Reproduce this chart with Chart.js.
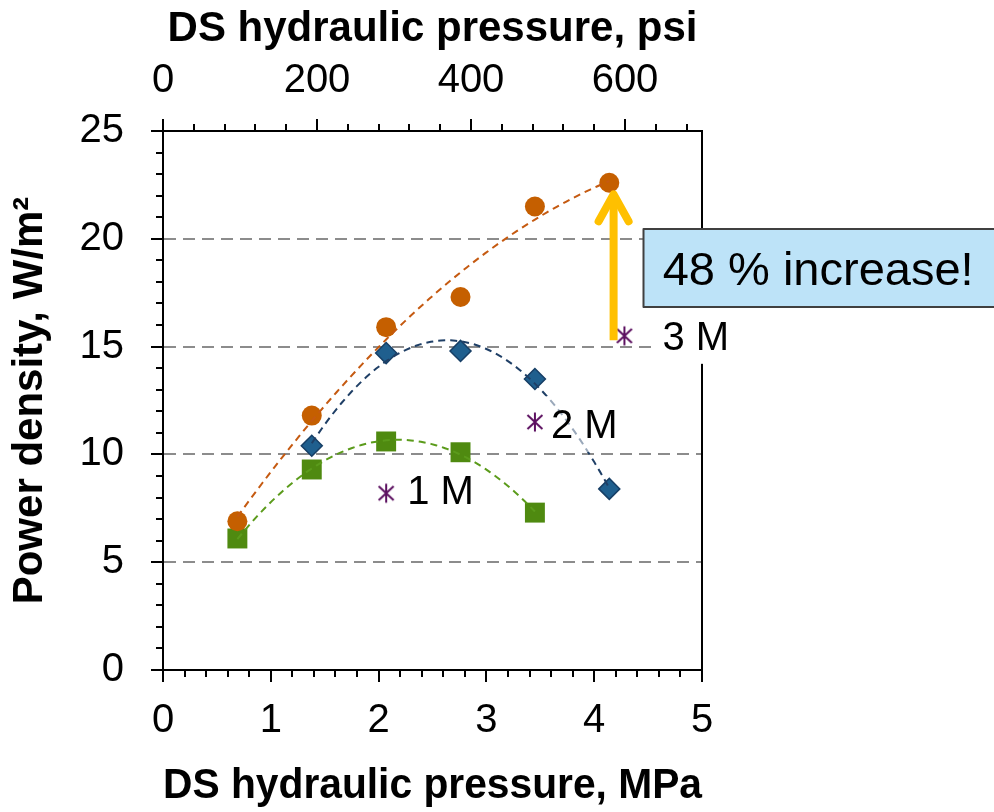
<!DOCTYPE html>
<html>
<head>
<meta charset="utf-8">
<script src="https://cdn.jsdelivr.net/npm/chart.js@4.4.0/dist/chart.umd.min.js"></script>
<style>
  html, body { margin: 0; padding: 0; background: #fff; }
  #grafico { display: block; }
</style>
</head>
<body>
<canvas id="grafico" width="994" height="812"></canvas>
<script>
/* ***** Data ***** */
const xCircles = [0.69, 1.38, 2.07, 2.76, 3.45, 4.14];
const yCircles = [6.9, 11.8, 15.9, 17.3, 21.5, 22.6];
const xDiamonds = [1.38, 2.07, 2.76, 3.45, 4.14];
const yDiamonds = [10.4, 14.7, 14.8, 13.5, 8.4];
const xSquares = [0.69, 1.38, 2.07, 2.76, 3.45];
const ySquares = [6.1, 9.3, 10.6, 10.1, 7.3];
const xStars = [2.07, 3.45, 4.28];
const yStars = [8.2, 11.5, 15.5];
const starLabels = ["1 M", "2 M", "3 M"];

const mpaTicks = [0, 1, 2, 3, 4, 5];
const psiTicks = [0, 200, 400, 600];
const powerTicks = [0, 5, 10, 15, 20, 25];
const calloutText = "48 % increase!";

/* annotation placement (data units) */
const arrowX = 4.18, arrowFromY = 15.3, arrowToY = 22.2;
const calloutX = 4.45, calloutTop = 20.45, calloutBottom = 16.85;

const FONT = '"Liberation Sans", Arial, sans-serif';
Chart.defaults.font.family = FONT;
Chart.defaults.color = "#000";

const toPoints = (xs, ys) => xs.map((x, i) => ({ x: x, y: ys[i] }));

// least squares 2nd order polynomial (like the Excel trendline)
function quadFit(xs, ys) {
  const s = [0, 0, 0, 0, 0], t = [0, 0, 0];
  xs.forEach((x, i) => {
    for (let k = 0; k < 5; k++) s[k] += Math.pow(x, k);
    for (let k = 0; k < 3; k++) t[k] += ys[i] * Math.pow(x, k);
  });
  const m = [[s[0], s[1], s[2], t[0]], [s[1], s[2], s[3], t[1]], [s[2], s[3], s[4], t[2]]];
  for (let c = 0; c < 3; c++) {
    for (let r = c + 1; r < 3; r++) {
      const f = m[r][c] / m[c][c];
      for (let k = c; k < 4; k++) m[r][k] -= f * m[c][k];
    }
  }
  const res = [0, 0, 0];
  for (let r = 2; r >= 0; r--) {
    let v = m[r][3];
    for (let k = r + 1; k < 3; k++) v -= m[r][k] * res[k];
    res[r] = v / m[r][r];
  }
  return res;
}

function trendPoints(xs, ys) {
  const c = quadFit(xs, ys);
  const a = xs[0], b = xs[xs.length - 1];
  const pts = [];
  for (let i = 0; i <= 60; i++) {
    const x = a + (b - a) * i / 60;
    pts.push({ x: x, y: c[0] + c[1] * x + c[2] * x * x });
  }
  return pts;
}

function makeStar(color) {
  const c = document.createElement("canvas");
  c.width = 22; c.height = 22;
  const g = c.getContext("2d");
  g.strokeStyle = color;
  g.lineWidth = 2;
  g.beginPath();
  g.moveTo(11, 1.5); g.lineTo(11, 20.5);
  g.moveTo(3.5, 4); g.lineTo(18.5, 18);
  g.moveTo(18.5, 4); g.lineTo(3.5, 18);
  g.stroke();
  return c;
}

function trendSet(pts, color) {
  return {
    data: pts, showLine: true, pointRadius: 0, borderColor: color,
    borderWidth: 2, borderDash: [7, 5], tension: 0, order: 0
  };
}

/* ***** extra drawing: minor ticks, labels, arrow, callout ***** */
const extras = {
  id: "extras",
  afterDraw(chart) {
    const { ctx, chartArea: a, scales } = chart;
    const x = scales.x, y = scales.y, x2 = scales.x2;
    ctx.save();
    ctx.strokeStyle = "#000";
    ctx.lineWidth = 2;
    ctx.beginPath();
    for (let v = 0; v <= 25; v++) {
      const py = Math.round(y.getPixelForValue(v));
      const len = v % 5 === 0 ? 12 : 7;
      ctx.moveTo(a.left - len, py); ctx.lineTo(a.left, py);
    }
    for (let i = 0; i <= 25; i++) {
      const px = Math.round(x.getPixelForValue(i * 0.2));
      const len = i % 5 === 0 ? 12 : 7;
      ctx.moveTo(px, a.bottom); ctx.lineTo(px, a.bottom + len);
    }
    for (let v = 0; v <= 700; v += 40) {
      const px = Math.round(x2.getPixelForValue(v));
      const len = v % 200 === 0 ? 12 : 7;
      ctx.moveTo(px, a.top); ctx.lineTo(px, a.top - len);
    }
    ctx.moveTo(a.right, a.top - 1); ctx.lineTo(a.right, a.bottom + 1);
    ctx.stroke();

    // labels next to the asterisks
    const offs = [[21, -3, null], [16, 2, "rgba(255,255,255,0.55)"], [38, 0, "#fff"]];
    ctx.font = "40px " + FONT;
    ctx.textBaseline = "alphabetic";
    starLabels.forEach((lab, i) => {
      const px = x.getPixelForValue(xStars[i]);
      const py = y.getPixelForValue(yStars[i]);
      const [dx, dy, bg] = offs[i];
      if (bg) {
        ctx.fillStyle = bg;
        ctx.fillRect(px + dx - 8, py + dy - 28, 90, 56);
      }
      ctx.fillStyle = "#000";
      ctx.fillText(lab, px + dx, py + dy + 14);
    });

    // yellow arrow
    const ax = x.getPixelForValue(arrowX);
    const ay0 = y.getPixelForValue(arrowFromY);
    const ay1 = y.getPixelForValue(arrowToY);
    ctx.strokeStyle = "#FFC000";
    ctx.lineWidth = 8;
    ctx.lineCap = "butt";
    ctx.beginPath();
    ctx.moveTo(ax, ay0); ctx.lineTo(ax, ay1 + 4);
    ctx.stroke();
    ctx.lineCap = "round";
    ctx.lineJoin = "round";
    ctx.beginPath();
    ctx.moveTo(ax - 15, ay1 + 30); ctx.lineTo(ax, ay1 + 3); ctx.lineTo(ax + 15, ay1 + 30);
    ctx.stroke();

    // callout box
    const bx = x.getPixelForValue(calloutX);
    const bt = y.getPixelForValue(calloutTop);
    const bb = y.getPixelForValue(calloutBottom);
    ctx.fillStyle = "#BDE3F8";
    ctx.strokeStyle = "#404040";
    ctx.lineWidth = 2;
    ctx.beginPath();
    ctx.rect(Math.round(bx) + 0.5, Math.round(bt), chart.width + 20 - bx, Math.round(bb - bt));
    ctx.fill();
    ctx.stroke();
    ctx.fillStyle = "#000";
    ctx.font = "47px " + FONT;
    ctx.fillText(calloutText, bx + 20, (bt + bb) / 2 + 17);
    ctx.restore();
  }
};

const ctx = document.getElementById("grafico");
const myChart = new Chart(ctx, {
  type: "scatter",
  data: {
    datasets: [
      trendSet(trendPoints(xCircles, yCircles), "#C55A11"),
      trendSet(trendPoints(xDiamonds, yDiamonds), "#1F3F66"),
      trendSet(trendPoints(xSquares, ySquares), "#5B9B1B"),
      {
        data: toPoints(xCircles, yCircles), pointStyle: "circle", pointRadius: 10,
        backgroundColor: "#C55F00", borderColor: "#C55F00", borderWidth: 0, order: 1
      },
      {
        data: toPoints(xDiamonds, yDiamonds), pointStyle: "rectRot", pointRadius: 10.5,
        backgroundColor: "#1F5F8E", borderColor: "#173F66", borderWidth: 1.5, order: 1
      },
      {
        data: toPoints(xSquares, ySquares), pointStyle: "rect", pointRadius: 14.1,
        backgroundColor: "#4F8A10", borderColor: "#4F8A10", borderWidth: 0, order: 1
      },
      {
        data: toPoints(xStars, yStars), pointStyle: makeStar("#5C1060"), pointRadius: 11,
        order: 1
      }
    ]
  },
  options: {
    responsive: false,
    animation: false,
    devicePixelRatio: 1,
    layout: { padding: { left: 0, right: 292, top: 0, bottom: 0 } },
    plugins: { legend: { display: false }, tooltip: { enabled: false } },
    scales: {
      x: {
        type: "linear", position: "bottom", min: 0, max: 5,
        afterBuildTicks: s => { s.ticks = mpaTicks.map(v => ({ value: v })); },
        ticks: { font: { size: 40 }, padding: 15, maxRotation: 0 },
        grid: { drawOnChartArea: false, tickLength: 12, tickColor: "rgba(0,0,0,0)" },
        border: { color: "#000", width: 2 },
        title: {
          display: true, text: "DS hydraulic pressure, MPa",
          font: { size: 42, weight: "bold" }, padding: { top: 0, bottom: 0 }
        },
        afterFit: s => { s.height = 142; }
      },
      x2: {
        type: "linear", position: "top", min: 0, max: 700,
        afterBuildTicks: s => { s.ticks = psiTicks.map(v => ({ value: v })); },
        ticks: { font: { size: 40 }, padding: 14, maxRotation: 0 },
        grid: { drawOnChartArea: false, tickLength: 12, tickColor: "rgba(0,0,0,0)" },
        border: { color: "#000", width: 2 },
        title: {
          display: true, text: "DS hydraulic pressure, psi",
          font: { size: 42, weight: "bold" }, padding: { top: 4, bottom: 0 }
        },
        afterFit: s => { s.height = 131; }
      },
      y: {
        type: "linear", position: "left", min: 0, max: 25,
        afterBuildTicks: s => { s.ticks = powerTicks.map(v => ({ value: v })); },
        ticks: { font: { size: 40 }, padding: 27 },
        grid: {
          color: c => (c.tick && c.tick.value > 0 && c.tick.value < 25) ? "#8C8C8C" : "rgba(0,0,0,0)",
          lineWidth: 2, tickLength: 12, tickColor: "rgba(0,0,0,0)"
        },
        border: { color: "#000", width: 2, dash: [12, 7] },
        title: {
          display: true, text: "Power density, W/m²",
          font: { size: 42, weight: "bold" }, padding: { top: 5, bottom: 0 }
        },
        afterFit: s => { s.width = 163; }
      }
    }
  },
  plugins: [extras]
});
</script>
</body>
</html>
